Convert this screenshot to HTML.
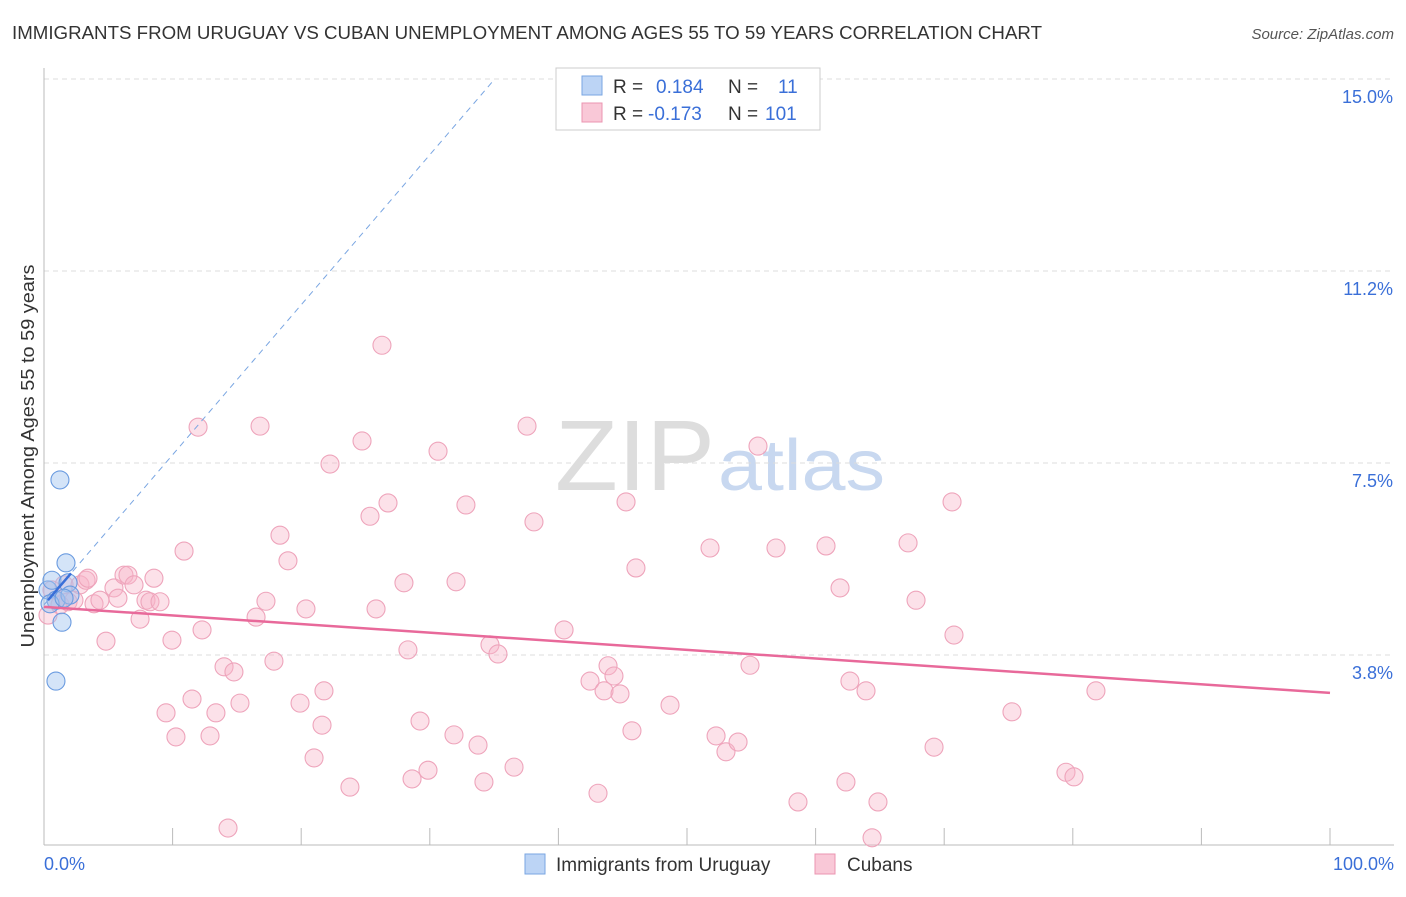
<!DOCTYPE html>
<html><head><meta charset="utf-8"><style>
body{margin:0;background:#fff;font-family:"Liberation Sans",sans-serif}
svg text{font-family:"Liberation Sans",sans-serif}
</style></head><body>
<svg id="c" width="1406" height="892" xmlns="http://www.w3.org/2000/svg">
<text x="12" y="39" font-size="18" fill="#333" textLength="1030" lengthAdjust="spacingAndGlyphs">IMMIGRANTS FROM URUGUAY VS CUBAN UNEMPLOYMENT AMONG AGES 55 TO 59 YEARS CORRELATION CHART</text>
<text x="1394" y="39" font-size="15" fill="#555" font-style="italic" text-anchor="end">Source: ZipAtlas.com</text>
<text x="34" y="456" font-size="18.5" fill="#333" text-anchor="middle" textLength="383" lengthAdjust="spacingAndGlyphs" transform="rotate(-90 34 456)">Unemployment Among Ages 55 to 59 years</text>
<text x="555" y="490" font-size="100" fill="#ddd" textLength="160" lengthAdjust="spacingAndGlyphs" font-family="Liberation Serif">ZIP</text>
<text x="718" y="490" font-size="72" fill="#c8d8f0" textLength="167" lengthAdjust="spacingAndGlyphs">atlas</text>
<g id="grid"></g><g id="axes"></g><g id="pts"></g><g id="lines"></g>
<g>
<rect x="556" y="68" width="264" height="62" fill="#fff" stroke="#ccc"/>
<rect x="582" y="76" width="20" height="19" fill="#bcd4f5" stroke="#7aa6e2"/>
<rect x="582" y="103" width="20" height="19" fill="#f9c8d7" stroke="#eb95b0"/>
<text x="613" y="93" font-size="19" fill="#333">R =</text><text x="656" y="93" font-size="19" fill="#3a6fd8">0.184</text>
<text x="728" y="93" font-size="19" fill="#333">N =</text><text x="778" y="93" font-size="19" fill="#3a6fd8">11</text>
<text x="613" y="120" font-size="19" fill="#333">R =</text><text x="648" y="120" font-size="19" fill="#3a6fd8">-0.173</text>
<text x="728" y="120" font-size="19" fill="#333">N =</text><text x="765" y="120" font-size="19" fill="#3a6fd8">101</text>
</g>
<g>
<rect x="525" y="854" width="20" height="20" fill="#bcd4f5" stroke="#7aa6e2"/>
<text x="556" y="871" font-size="19" fill="#333">Immigrants from Uruguay</text>
<rect x="815" y="854" width="20" height="20" fill="#f9c8d7" stroke="#eb95b0"/>
<text x="847" y="871" font-size="19" fill="#333">Cubans</text>
</g>
</svg>
<script>
const yTicks=[15,11.25,7.5,3.75];
const yTickLabels=["15.0%","11.2%","7.5%","3.8%"];
const xTickLabels=["0.0%","100.0%"];
const blueX=[0.31,0.62,0.93,1.24,1.4,1.71,1.87,2.02,0.93,0.47,1.56];
const blueY=[5.02,5.21,4.82,7.17,4.39,5.55,5.16,4.92,3.24,4.75,4.86];
const pinkX=[0.31,0.62,0.93,1.24,1.56,1.87,2.33,2.8,3.27,3.42,3.89,4.35,4.82,5.44,5.75,6.22,6.53,7.0,7.47,7.93,8.24,8.55,9.02,9.49,9.95,10.26,10.89,11.51,11.98,12.29,12.91,13.37,14.0,14.31,14.77,15.24,16.8,16.49,17.26,17.88,18.35,18.97,19.91,20.37,21.0,21.62,21.77,22.24,23.79,24.73,25.35,25.82,26.28,26.75,27.99,28.3,28.62,29.24,29.86,30.64,31.88,32.04,32.81,33.75,34.21,34.68,35.3,36.55,37.56,38.1,40.44,42.46,43.08,43.55,43.86,44.32,44.79,45.26,45.72,46.03,48.68,51.79,52.26,53.03,53.97,54.9,55.52,56.92,58.63,60.81,61.9,62.36,62.67,63.92,64.39,64.85,67.19,67.81,69.21,70.61,70.76,75.27,79.47,80.09,81.8];
const pinkY=[4.53,5.02,4.82,4.73,5.12,4.79,4.82,5.12,5.21,5.25,4.75,4.82,4.02,5.06,4.86,5.31,5.31,5.12,4.45,4.82,4.79,5.25,4.79,2.62,4.04,2.15,5.78,2.89,8.2,4.24,2.17,2.62,3.52,0.37,3.42,2.81,8.22,4.49,4.8,3.63,6.09,5.59,2.81,4.65,1.74,2.38,3.05,7.48,1.17,7.93,6.46,4.65,9.8,6.72,5.16,3.85,1.33,2.46,1.5,7.73,2.19,5.18,6.68,1.99,1.27,3.95,3.77,1.56,8.22,6.35,4.24,3.24,1.05,3.05,3.54,3.34,2.99,6.74,2.27,5.45,2.77,5.84,2.17,1.86,2.05,3.55,7.83,5.84,0.88,5.88,5.06,1.27,3.24,3.05,0.18,0.88,5.94,4.82,1.95,6.74,4.14,2.64,1.46,1.37,3.05];
const pinkTrend=[4.69,3.01];
const blueTrend=[4.73,0.293];
const X=v=>44+v*12.86, Y=v=>847-v*51.2;
const NS="http://www.w3.org/2000/svg";
function mk(p,t,a){const e=document.createElementNS(NS,t);for(const k in a)e.setAttribute(k,a[k]);document.getElementById(p).appendChild(e);return e;}
yTicks.forEach((t,i)=>{
 const l=mk('grid','line',{x1:44,x2:1394,y1:Y(t),y2:Y(t),stroke:'#ddd','stroke-dasharray':'5,4'});
 
 
 const tx=mk('axes','text',{x:1393,y:Y(t)+24,'font-size':18,fill:'#3a6fd8','text-anchor':'end'});
 tx.textContent=yTickLabels[i];
 
 
});
const ax=mk('axes','line',{x1:44,x2:44,y1:68,y2:845,stroke:'#bbb'});


const bx=mk('axes','line',{x1:44,x2:1394,y1:845,y2:845,stroke:'#bbb'});


for(let i=1;i<=10;i++){const t=mk('axes','line',{x1:X(i*10),x2:X(i*10),y1:828,y2:845,stroke:'#bbb'});
 
 }
[[0,'start',44],[100,'end',1394]].forEach((d,i)=>{const t=mk('axes','text',{x:d[2],y:870,'font-size':18,fill:'#3a6fd8','text-anchor':d[1]});t.textContent=xTickLabels[i];
 
 });
pinkX.forEach((x,i)=>{const c=mk('pts','circle',{cx:X(x),cy:Y(pinkY[i]),r:9,fill:'rgba(248,180,200,0.4)',stroke:'#eea4bb','stroke-width':1.1});
 
 });
blueX.forEach((x,i)=>{const c=mk('pts','circle',{cx:X(x),cy:Y(blueY[i]),r:9,fill:'rgba(160,195,240,0.45)',stroke:'#6a9be0','stroke-width':1.1});
 
 });
const pl=mk('lines','line',{x1:X(0),y1:Y(pinkTrend[0]),x2:X(100),y2:Y(pinkTrend[1]),stroke:'#e8699a','stroke-width':2.5});


const xe=(15-blueTrend[0])/blueTrend[1];
const bd=mk('lines','line',{x1:X(0),y1:Y(blueTrend[0]),x2:X(xe),y2:Y(15),stroke:'#7aa6e2','stroke-width':1,'stroke-dasharray':'6,5'});


const bs=mk('lines','line',{x1:X(0.31),y1:Y(blueTrend[0]+blueTrend[1]*0.31),x2:X(2.1),y2:Y(blueTrend[0]+blueTrend[1]*2.1),stroke:'#3a6fd8','stroke-width':2.5});


</script>
</body></html>
